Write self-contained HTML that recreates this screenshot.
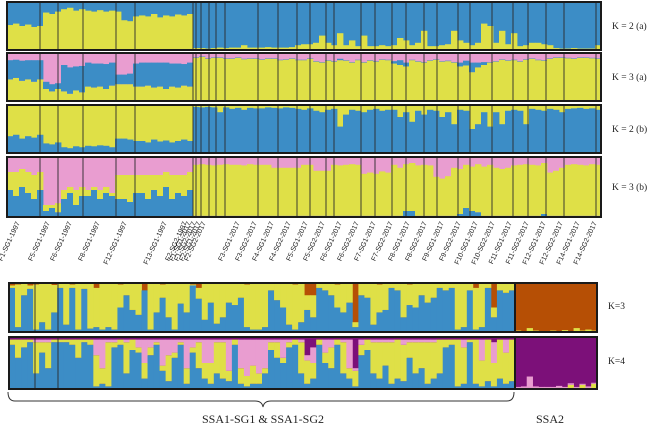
<!DOCTYPE html>
<html><head><meta charset="utf-8">
<style>
html,body{margin:0;padding:0;background:#fff;}
svg{display:block;}
</style></head>
<body>
<svg id="chart" width="655" height="425" viewBox="0 0 655 425" xmlns="http://www.w3.org/2000/svg" font-family="Liberation Serif, serif"></svg>
<script>
// ---------- data (percent of ancestry per bar, bottom-up) ----------
const p1Yellow = [52,55,50,53,48,50,78,75,80,85,88,82,85,82,80,83,80,82,80,62,60,70,72,70,75,68,72,70,74,72,75,
 4,4,3,4,5,4,5,5,10,5,5,5,6,5,5,5,6,10,12,12,15,30,15,10,35,10,20,8,30,8,8,10,8,10,25,20,10,15,40,8,8,10,12,40,20,15,10,15,55,50,15,40,12,35,8,10,15,15,12,10,4,3,3,4,3,3,3,10];
const p2Yellow = [45,48,42,45,40,45,25,20,25,20,15,22,18,30,28,30,25,32,35,35,35,30,30,32,28,30,25,30,28,32,30,
 90,92,88,90,90,88,88,90,87,88,88,86,88,88,85,86,88,85,85,88,82,80,84,82,85,84,80,85,80,84,82,86,85,78,75,72,85,82,80,84,86,82,83,80,72,74,60,70,75,80,82,86,84,85,82,86,88,85,84,88,90,90,89,88,90,90,89,88];
const p2Blue = [40,38,42,40,45,40,15,15,12,55,55,50,55,50,50,48,52,48,20,20,22,48,50,48,52,50,55,48,50,45,50,
 1,1,1,1,1,1,1,1,1,1,1,1,1,1,1,1,1,1,1,1,1,1,1,1,3,1,1,1,1,1,1,1,1,5,10,8,1,1,1,1,1,1,1,1,8,10,20,10,6,1,1,1,1,1,1,1,1,1,1,1,1,1,1,1,1,1,1,1];
const p3Blue = [35,38,30,35,32,38,20,18,22,12,10,14,12,15,14,16,15,12,30,30,28,25,25,22,28,24,26,22,25,28,25,
 96,95,96,95,85,95,92,94,90,94,93,93,95,94,93,95,94,92,90,93,88,85,90,92,55,80,90,88,85,90,92,88,90,90,75,85,65,88,80,90,88,75,85,60,90,88,50,60,85,55,85,60,88,90,88,60,92,90,88,92,90,85,92,93,94,92,93,90];
const p4Blue = [45,35,50,40,30,45,10,15,8,30,40,20,35,35,45,30,40,35,30,30,25,40,40,30,45,35,50,30,40,35,45,
 2,2,2,2,2,2,2,2,2,2,2,2,2,2,2,2,2,2,2,2,2,2,2,2,2,2,2,2,2,2,2,2,2,2,2,10,10,2,2,2,2,2,2,2,5,15,10,8,2,2,2,2,2,2,2,2,2,2,5,2,2,2,2,2,2,2,2,2];
const p4Yellow = [30,40,30,35,40,30,10,5,15,15,10,25,15,10,5,15,10,5,40,40,45,30,30,40,25,35,25,40,30,35,30,
 85,86,85,84,85,86,85,85,84,86,85,85,85,80,80,80,80,80,85,85,75,75,75,85,84,85,86,85,70,72,70,74,72,85,80,78,80,84,85,84,65,62,66,80,75,72,74,80,82,85,80,78,80,84,85,86,85,84,85,72,75,80,85,86,85,84,86,85];
const k3Blue = [90,10,75,88,5,20,5,40,90,15,90,5,88,7,10,5,10,5,50,75,45,35,85,5,40,70,30,5,58,40,95,68,25,60,17,
 30,60,55,70,10,5,5,10,85,65,50,15,5,20,45,30,90,85,75,50,40,60,10,75,70,15,40,45,90,85,30,55,50,75,60,70,90,85,90,5,10,85,5,10,90,30,85,80,85];
const k3Orange = [5,3,2,5,3,2,2,4,2,2,3,2,2,2,10,2,2,2,3,2,2,2,15,2,2,3,2,2,2,2,3,10,2,2,2,
 2,2,2,2,3,2,2,2,2,2,2,2,3,2,25,25,2,2,2,3,2,2,80,2,2,2,3,2,2,2,2,3,2,2,2,2,2,2,2,2,2,2,10,2,2,50,2,2,2];
const k4Blue = [85,60,80,90,30,70,40,90,90,90,85,60,90,85,5,10,5,80,85,30,75,70,20,65,85,35,15,60,85,10,70,
 40,20,10,30,20,15,85,10,5,10,10,30,75,60,50,80,85,30,10,20,85,50,40,85,30,20,5,65,75,30,20,45,10,20,15,60,30,40,10,20,30,80,85,5,10,90,10,5,15,5,20,10,15];
const k4Yellow = [10,35,15,5,60,20,50,5,5,5,10,35,5,10,60,30,85,10,10,60,20,10,30,15,5,10,50,10,5,30,10,
 50,30,40,60,70,20,10,30,20,35,20,10,15,30,10,10,10,60,45,30,10,20,40,10,60,20,30,20,20,60,70,45,80,75,70,30,60,50,80,70,65,15,10,90,70,5,85,50,80,45,75,60,80];
const k4Pink = [0,0,0,0,5,5,5,0,0,0,0,0,0,0,30,55,5,5,0,5,0,15,45,15,5,50,30,25,5,55,15,
 5,45,45,5,5,60,0,55,70,50,65,55,5,5,35,5,0,5,10,30,0,25,15,0,5,55,5,10,0,5,5,5,5,0,10,5,5,5,5,5,0,0,0,0,15,0,0,40,0,40,0,25,0];
const ssaK3Yellow = [3,2,8,3,2,2,3,2,4,2,8,3,5,3];
const ssaK4Pink = [2,3,22,3,2,2,2,4,2,3,2,2,3,2];
const ssaK4Yellow = [2,2,2,2,2,2,2,2,2,8,2,8,2,10];
const groupLabels = ["F1-SG1-1997","F5-SG1-1997","F6-SG1-1997","F8-SG1-1997","F12-SG1-1997","F13-SG1-1997","F2-SG2-1997","F1-SG1-2017","F1-SG2-2017","F2-SG1-2017","F2-SG2-2017","F3-SG1-2017","F3-SG2-2017","F4-SG1-2017","F4-SG2-2017","F5-SG1-2017","F5-SG2-2017","F6-SG1-2017","F6-SG2-2017","F7-SG1-2017","F7-SG2-2017","F8-SG1-2017","F8-SG2-2017","F9-SG1-2017","F9-SG2-2017","F10-SG1-2017","F10-SG2-2017","F11-SG1-2017","F11-SG2-2017","F12-SG1-2017","F12-SG2-2017","F14-SG1-2017","F14-SG2-2017"];
const panelLabels = ["K = 2 (a)","K = 3 (a)","K = 2 (b)","K = 3 (b)"];

// ---------- drawing ----------
const NS="http://www.w3.org/2000/svg";
const svg=document.getElementById('chart');
const C={blue:"#3c8dc6",yellow:"#dfe047",pink:"#e99dd0",orange:"#b64f05",purple:"#7c1079"};
function mk(tag,attrs,parent){const e=document.createElementNS(NS,tag);for(const k in attrs)e.setAttribute(k,attrs[k]);(parent||svg).appendChild(e);return e;}
const TOP={x0:7,x1:601,n:99};
const topDividers=[40,58,83,116,135,193,196,201,209,216,225,258,278,297,310,326,334,361,375,392,406,424,437,458,470,492,513,528,546,564,596];
function xTop(i){return TOP.x0+i*(TOP.x1-TOP.x0)/TOP.n;}
function drawPanel(name,x0,x1,y0,y1,n,xf,stacks,topColor,dividers){
  const g=mk('g',{});
  
  
  const bg=mk('rect',{x:x0,y:y0,width:x1-x0,height:y1-y0,fill:topColor},g);
  
  
  const h=y1-y0;
  for(let i=0;i<n;i++){
    const xa=xf(i),w=xf(i+1)-xa+0.4;let acc=0;
    stacks.forEach(([arr,col])=>{
      let v=Math.max(0,Math.min(100-acc,arr[i]||0));
      if(v<=0)return;
      const r=mk('rect',{x:xa,y:y1-(acc+v)/100*h,width:w,height:v/100*h,fill:col},g);
      
      
      acc+=v;
    });
  }
  (dividers||[]).forEach(d=>{const l=mk('line',{x1:d,x2:d,y1:y0,y2:y1,stroke:'#2a2a2a','stroke-width':0.9},g);
    
    });
  const b=mk('rect',{x:x0,y:y0,width:x1-x0,height:y1-y0,fill:'none',stroke:'#1a1a1a','stroke-width':2},g);
  
  
}
const tops=[[2,50],[53,101],[105,153],[157,217]];
drawPanel('panel-k2a',7,601,tops[0][0],tops[0][1],99,xTop,[[p1Yellow,C.yellow]],C.blue,topDividers);
drawPanel('panel-k3a',7,601,tops[1][0],tops[1][1],99,xTop,[[p2Yellow,C.yellow],[p2Blue,C.blue]],C.pink,topDividers);
drawPanel('panel-k2b',7,601,tops[2][0],tops[2][1],99,xTop,[[p3Blue,C.blue]],C.yellow,topDividers);
drawPanel('panel-k3b',7,601,tops[3][0],tops[3][1],99,xTop,[[p4Blue,C.blue],[p4Yellow,C.yellow]],C.pink,topDividers);
panelLabels.forEach((t,k)=>{
  const e=mk('text',{x:612,y:(tops[k][0]+tops[k][1])/2+3,'font-size':9.5,fill:'#222'});
  e.textContent=t;
  
  
});
const labX=[20,50,72,100,127,167,187,191,196,201,206];
for(let k=0;k<22;k++)labX.push(240+k*17);
groupLabels.forEach((t,k)=>{
  const e=mk('text',{'font-family':'Liberation Sans, sans-serif','font-size':7,fill:'#222','text-anchor':'end',transform:`translate(${labX[k]},223) rotate(-65)`});
  e.textContent=t;
  
  
});
const BX0=9,BSPLIT=515,BX1=597,NB=84,NS2=14;
function xBot(i){return BX0+i*(BSPLIT-BX0)/NB;}
function xSsa(i){return BSPLIT+i*(BX1-BSPLIT)/NS2;}
drawPanel('panel-k3-ssa1',BX0,BSPLIT,283,332,NB,xBot,[[k3Blue,C.blue],[k3Orange.map((o,i)=>100-k3Blue[i]-o),C.yellow]],C.orange,[35,58]);
drawPanel('panel-k3-ssa2',BSPLIT,BX1,283,332,NS2,xSsa,[[ssaK3Yellow,C.yellow]],C.orange,[]);
drawPanel('panel-k4-ssa1',BX0,BSPLIT,337,389,NB,xBot,[[k4Blue,C.blue],[k4Yellow,C.yellow],[k4Pink,C.pink]],C.purple,[35,58]);
drawPanel('panel-k4-ssa2',BSPLIT,BX1,337,389,NS2,xSsa,[[ssaK4Yellow,C.yellow],[ssaK4Pink,C.pink]],C.purple,[]);
const o1=mk('rect',{x:BX0,y:283,width:BX1-BX0,height:49,fill:'none',stroke:'#1a1a1a','stroke-width':2});

const o2=mk('rect',{x:BX0,y:337,width:BX1-BX0,height:52,fill:'none',stroke:'#1a1a1a','stroke-width':2});

[['K=3',309],['K=4',364]].forEach(([t,y])=>{const e=mk('text',{x:608,y:y,'font-size':9.5,fill:'#222'});e.textContent=t;
  });
const br=mk('path',{d:'M8,392 Q8,401 15,401 L255,401 Q262,401 263,407 Q264,401 271,401 L507,401 Q514,401 514,392',fill:'none',stroke:'#333','stroke-width':1});

const t1=mk('text',{x:263,y:423,'font-size':12,'text-anchor':'middle',fill:'#222'});t1.textContent='SSA1-SG1 & SSA1-SG2';

const t2=mk('text',{x:550,y:423,'font-size':12,'text-anchor':'middle',fill:'#222'});t2.textContent='SSA2';

</script>
</body></html>
